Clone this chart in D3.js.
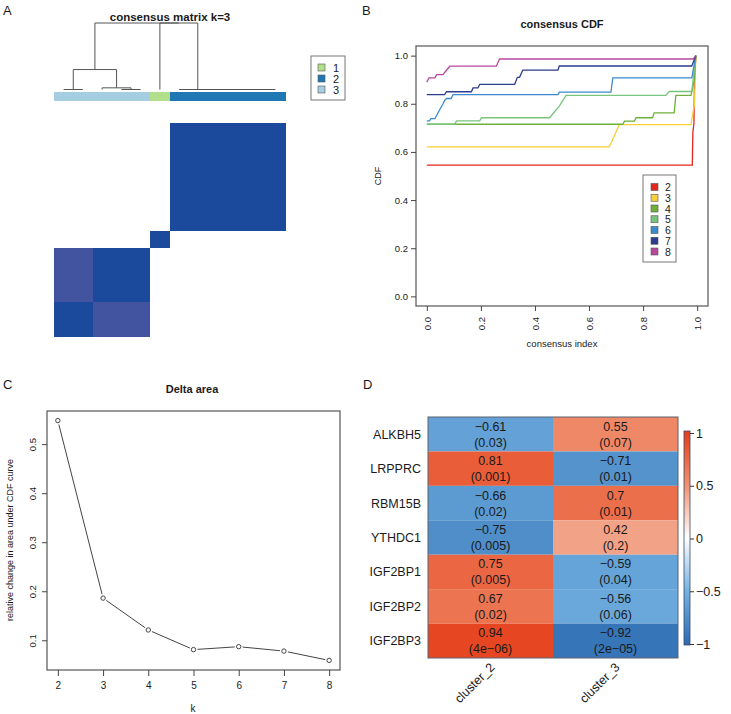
<!DOCTYPE html>
<head>
    <meta charset="UTF-8">
    <script src="https://d3js.org/d3.v7.min.js"></script>
    <style>
        body { margin: 0; background: white; }
        svg { display: block; font-family: "Liberation Sans", Arial, sans-serif; }
        text { fill: #1a1a1a; }
    </style>
</head>

<body>
    <div id="chart"></div>
    <script>
        // ---- panel A: consensus matrix (k=3), samples in plotted order ----
        const sampleCluster = [3, 3, 3, 3, 3, 1, 2, 2, 2, 2, 2, 2]
        const consensus = [
            [1, 1, .7, .7, .7, 0, 0, 0, 0, 0, 0, 0],
            [1, 1, .7, .7, .7, 0, 0, 0, 0, 0, 0, 0],
            [.7, .7, 1, 1, 1, 0, 0, 0, 0, 0, 0, 0],
            [.7, .7, 1, 1, 1, 0, 0, 0, 0, 0, 0, 0],
            [.7, .7, 1, 1, 1, 0, 0, 0, 0, 0, 0, 0],
            [0, 0, 0, 0, 0, 1, 0, 0, 0, 0, 0, 0],
            [0, 0, 0, 0, 0, 0, 1, 1, 1, 1, 1, 1],
            [0, 0, 0, 0, 0, 0, 1, 1, 1, 1, 1, 1],
            [0, 0, 0, 0, 0, 0, 1, 1, 1, 1, 1, 1],
            [0, 0, 0, 0, 0, 0, 1, 1, 1, 1, 1, 1],
            [0, 0, 0, 0, 0, 0, 1, 1, 1, 1, 1, 1],
            [0, 0, 0, 0, 0, 0, 1, 1, 1, 1, 1, 1]
        ]
        // hclust tree: h = merge height, c = children (leaf = sample index)
        const dendro = {
            h: 1, c: [
                { h: 0.3, c: [{ h: 0, c: [0, 1] }, { h: 0.025, c: [2, { h: 0, c: [3, 4] }] }] },
                { h: 1, c: [5, { h: 0, c: [6, { h: 0, c: [7, { h: 0, c: [8, { h: 0, c: [9, { h: 0, c: [10, 11] }] }] }] }] }] }
            ]
        }
        const clusterNames = ["1", "2", "3"]
        const clusterColors = ["#b2df8a", "#1f78b4", "#a6cee3"]

        // ---- panel B: consensus CDF, [consensus index, CDF] ----
        const cdfK2 = [[0, .545], [.982, .545], [.984, .68], [.988, .72], [.99, .9], [.995, 1]]
        const cdfK3 = [[0, .621], [.675, .621], [.685, .645], [.712, .713], [.977, .713], [.99, .8], [.995, 1]]
        const cdfK4 = [[0, .715], [.725, .715], [.731, .728], [.768, .728], [.774, .742], [.835, .742], [.841, .762],
            [.915, .762], [.921, .835], [.977, .835], [.99, .9], [.995, 1]]
        const cdfK5 = [[0, .715], [.103, .715], [.11, .729], [.196, .729], [.202, .742], [.454, .742], [.475, .77],
            [.49, .79], [.515, .835], [.884, .835], [.897, .851], [.98, .851], [.99, .95], [.995, 1]]
        const cdfK6 = [[0, .729], [.01, .729], [.015, .738], [.03, .738], [.045, .77], [.06, .8], [.066, .814],
            [.073, .822], [.09, .822], [.097, .838], [.485, .838], [.49, .848], [.681, .848], [.688, .908],
            [.98, .908], [.995, 1]]
        const cdfK7 = [[0, .838], [.066, .838], [.073, .85], [.165, .85], [.171, .866], [.189, .866], [.196, .881],
            [.325, .881], [.335, .91], [.343, .91], [.355, .94], [.485, .94], [.49, .957], [.98, .957], [.995, 1]]
        const cdfK8 = [[0, .89], [.008, .908], [.03, .908], [.036, .921], [.06, .921], [.066, .93], [.085, .956],
            [.257, .956], [.269, .986], [.985, .986], [.995, 1]]
        const cdfSeries = [cdfK2, cdfK3, cdfK4, cdfK5, cdfK6, cdfK7, cdfK8]
        const cdfNames = ["2", "3", "4", "5", "6", "7", "8"]
        const cdfColors = ["#e3261f", "#f5d03a", "#6fb03a", "#78c47e", "#3b89cf", "#2c3c8e", "#b8489e"]
        const unitTicks = [0, 0.2, 0.4, 0.6, 0.8, 1]

        // ---- panel C: delta area ----
        const kValues = [2, 3, 4, 5, 6, 7, 8]
        const deltaArea = [0.548, 0.186, 0.121, 0.081, 0.087, 0.078, 0.059]
        const deltaTicks = [0.1, 0.2, 0.3, 0.4, 0.5]

        // ---- panel D: correlation heatmap ----
        const genes = ["ALKBH5", "LRPPRC", "RBM15B", "YTHDC1", "IGF2BP1", "IGF2BP2", "IGF2BP3"]
        const clusters = ["cluster_2", "cluster_3"]
        const corrCluster2 = [-0.61, 0.81, -0.66, -0.75, 0.75, 0.67, 0.94]
        const corrCluster3 = [0.55, -0.71, 0.7, 0.42, -0.59, -0.56, -0.92]
        const pCluster2 = ["0.03", "0.001", "0.02", "0.005", "0.005", "0.02", "4e−06"]
        const pCluster3 = ["0.07", "0.01", "0.01", "0.2", "0.04", "0.06", "2e−05"]
        const legendTicks = [-1, -0.5, 0, 0.5, 1]

        let width = 731, height = 714
        let svg = d3.select("#chart").append("svg")
            .attr("width", width)
            .attr("height", height)

        const minus = s => String(s).replace("-", "−")
        const panelLetter = (x, y, t) => svg.append("text").attr("x", x).attr("y", y)
            .text(t).style("font-size", "13px")

        // ================= A =================
        panelLetter(3, 15, "A")
        svg.append("text").attr("x", 170).attr("y", 21).attr("text-anchor", "middle")
            .style("font-size", "11.5px").style("font-weight", "bold").text("consensus matrix k=3")

        let idx = d3.range(sampleCluster.length)
        let xA = d3.scaleBand().domain(idx).range([54, 285])
        let yA = d3.scaleBand().domain(idx).range([336, 123])
        let matColor = d3.scaleThreshold().domain([0.3, 0.9]).range(["#ffffff", "#4253a0", "#1b4a9c"])
        let clusterColor = d3.scaleOrdinal().domain([1, 2, 3]).range(clusterColors)

        let matG = svg.append("g").attr("shape-rendering", "crispEdges")
        consensus.forEach((row, i) => {
            matG.append("g").selectAll("rect").data(row).join("rect")
                .attr("x", (d, j) => xA(j))
                .attr("y", yA(i))
                .attr("width", xA.bandwidth() + 1)
                .attr("height", yA.bandwidth() + 1)
                .attr("fill", d => matColor(d))
        })

        svg.append("g").attr("shape-rendering", "crispEdges")
            .selectAll("rect").data(sampleCluster).join("rect")
            .attr("x", (d, j) => xA(j))
            .attr("y", 92)
            .attr("width", xA.bandwidth() + 1)
            .attr("height", 9)
            .attr("fill", d => clusterColor(d))

        // dendrogram
        let yH = d3.scaleLinear().domain([0, 1]).range([89.5, 23])
        let dg = svg.append("g").attr("stroke", "#555").attr("fill", "none").attr("stroke-width", 1)
        function drawNode(node) {
            if (typeof node === "number") return { x: xA(node) + xA.bandwidth() / 2, h: 0 }
            let kids = node.c.map(drawNode)
            let y0 = yH(node.h)
            dg.append("line").attr("x1", kids[0].x).attr("x2", kids[1].x).attr("y1", y0).attr("y2", y0)
            kids.forEach(k => {
                dg.append("line").attr("x1", k.x).attr("x2", k.x).attr("y1", y0).attr("y2", yH(k.h))
            })
            return { x: d3.mean(kids, k => k.x), h: node.h }
        }
        drawNode(dendro)

        // legend A
        svg.append("rect").attr("x", 311).attr("y", 56).attr("width", 34).attr("height", 44)
            .attr("fill", "none").attr("stroke", "#777")
        clusterNames.forEach((n, i) => {
            svg.append("rect").attr("x", 318).attr("y", 64 + i * 11).attr("width", 7).attr("height", 7)
                .attr("fill", clusterColors[i]).attr("stroke", "#555").attr("stroke-width", 0.6)
            svg.append("text").attr("x", 333).attr("y", 71.5 + i * 11).text(n).style("font-size", "11px")
        })

        // ================= B =================
        panelLetter(362, 15, "B")
        svg.append("text").attr("x", 562).attr("y", 28).attr("text-anchor", "middle")
            .style("font-size", "11px").style("font-weight", "bold").text("consensus CDF")

        let xB = d3.scaleLinear().domain([-0.04, 1.04]).range([416, 708])
        let yB = d3.scaleLinear().domain([-0.04, 1.04]).range([306, 46])

        let lineB = d3.line().x(d => xB(d[0])).y(d => yB(d[1]))
        svg.append("g").selectAll("path").data(cdfSeries).join("path")
            .attr("d", lineB)
            .attr("fill", "none")
            .attr("stroke", (d, i) => cdfColors[i])
            .attr("stroke-width", 1.3)

        svg.append("rect").attr("x", 416).attr("y", 46).attr("width", 292).attr("height", 260)
            .attr("fill", "none").attr("stroke", "#555").attr("stroke-width", 1.2)

        let axYB = svg.append("g").attr("transform", "translate(416,0)")
            .call(d3.axisLeft(yB).tickValues(unitTicks).tickFormat(d3.format(".1f")).tickSize(5).tickPadding(3))
        axYB.select(".domain").remove()
        axYB.selectAll("text").style("font-size", "9.5px").style("font-family", null)

        let axXB = svg.append("g").attr("transform", "translate(0,306)")
            .call(d3.axisBottom(xB).tickValues(unitTicks).tickFormat(d3.format(".1f")).tickSize(5))
        axXB.select(".domain").remove()
        axXB.selectAll("text")
            .attr("transform", "rotate(-90)")
            .attr("x", -11).attr("y", 0).attr("dy", "0.35em")
            .attr("text-anchor", "end")
            .style("font-size", "9.5px").style("font-family", null)
        svg.selectAll(".tick line").attr("stroke", "#444")

        svg.append("text").attr("x", 562).attr("y", 347).attr("text-anchor", "middle")
            .style("font-size", "9.5px").text("consensus index")
        svg.append("text").attr("transform", "translate(381,176) rotate(-90)").attr("text-anchor", "middle")
            .style("font-size", "9px").text("CDF")

        // legend B
        svg.append("rect").attr("x", 643).attr("y", 175).attr("width", 33).attr("height", 87)
            .attr("fill", "white").attr("stroke", "#777")
        cdfNames.forEach((n, i) => {
            let cy = 187 + i * 10.75
            svg.append("rect").attr("x", 651).attr("y", cy - 3.5).attr("width", 7).attr("height", 7)
                .attr("fill", cdfColors[i]).attr("stroke", "#555").attr("stroke-width", 0.6)
            svg.append("text").attr("x", 665).attr("y", cy + 4).text(n).style("font-size", "10.5px")
        })

        // ================= C =================
        panelLetter(3, 389, "C")
        svg.append("text").attr("x", 192).attr("y", 393).attr("text-anchor", "middle")
            .style("font-size", "11px").style("font-weight", "bold").text("Delta area")

        let [dMin, dMax] = d3.extent(deltaArea)
        let pad = (dMax - dMin) * 0.04
        let xC = d3.scaleLinear().domain([2 - 0.24, 8 + 0.24]).range([47, 340])
        let yC = d3.scaleLinear().domain([dMin - pad, dMax + pad]).range([670, 411])

        let pts = kValues.map((k, i) => [xC(k), yC(deltaArea[i])])
        let gap = 4
        let segs = d3.pairs(pts).map(([a, b]) => {
            let dx = b[0] - a[0], dy = b[1] - a[1], len = Math.hypot(dx, dy)
            return [a[0] + dx / len * gap, a[1] + dy / len * gap, b[0] - dx / len * gap, b[1] - dy / len * gap]
        })
        svg.append("g").selectAll("line").data(segs).join("line")
            .attr("x1", d => d[0]).attr("y1", d => d[1]).attr("x2", d => d[2]).attr("y2", d => d[3])
            .attr("stroke", "#444").attr("stroke-width", 1)
        svg.append("g").selectAll("circle").data(pts).join("circle")
            .attr("cx", d => d[0]).attr("cy", d => d[1]).attr("r", 2.2)
            .attr("fill", "none").attr("stroke", "#444").attr("stroke-width", 1)

        svg.append("rect").attr("x", 47).attr("y", 411).attr("width", 293).attr("height", 259)
            .attr("fill", "none").attr("stroke", "#555").attr("stroke-width", 1.2)

        let axXC = svg.append("g").attr("transform", "translate(0,670)")
            .call(d3.axisBottom(xC).tickValues(kValues).tickFormat(d3.format("d")).tickSize(6).tickPadding(6))
        axXC.select(".domain").remove()
        axXC.selectAll("text").style("font-size", "10px").style("font-family", null)

        let axYC = svg.append("g").attr("transform", "translate(47,0)")
            .call(d3.axisLeft(yC).tickValues(deltaTicks).tickFormat(d3.format(".1f")).tickSize(5))
        axYC.select(".domain").remove()
        axYC.selectAll("text")
            .attr("transform", "rotate(-90)")
            .attr("x", 0).attr("y", -11).attr("dy", 0)
            .attr("text-anchor", "middle")
            .style("font-size", "9.5px").style("font-family", null)
        svg.selectAll(".tick line").attr("stroke", "#444")

        svg.append("text").attr("x", 193).attr("y", 712).attr("text-anchor", "middle")
            .style("font-size", "10px").text("k")
        svg.append("text").attr("transform", "translate(13,540) rotate(-90)").attr("text-anchor", "middle")
            .style("font-size", "9px").text("relative change in area under CDF curve")

        // ================= D =================
        panelLetter(363, 389, "D")
        let xD = d3.scaleBand().domain(clusters).range([428, 678])
        let yD = d3.scaleBand().domain(genes).range([417, 658])
        let corrColor = d3.scaleLinear().domain([-1, -0.5, 0, 0.5, 1])
            .range(["#2c6ab1", "#72b1e1", "#ffffff", "#f0906f", "#e53d17"])

        let cells = []
        genes.forEach((g, i) => {
            cells.push({ gene: g, cl: clusters[0], r: corrCluster2[i], p: pCluster2[i] })
            cells.push({ gene: g, cl: clusters[1], r: corrCluster3[i], p: pCluster3[i] })
        })
        let cellG = svg.append("g").selectAll("g").data(cells).join("g")
            .attr("transform", d => `translate(${xD(d.cl)},${yD(d.gene)})`)
        cellG.append("rect")
            .attr("width", xD.bandwidth()).attr("height", yD.bandwidth())
            .attr("fill", d => corrColor(d.r))
        cellG.append("text")
            .attr("x", xD.bandwidth() / 2).attr("y", yD.bandwidth() / 2 - 3.5)
            .attr("text-anchor", "middle").style("font-size", "12.5px")
            .text(d => minus(d.r))
        cellG.append("text")
            .attr("x", xD.bandwidth() / 2).attr("y", yD.bandwidth() / 2 + 12.5)
            .attr("text-anchor", "middle").style("font-size", "12.5px")
            .text(d => "(" + d.p + ")")

        svg.append("rect").attr("x", 428).attr("y", 417).attr("width", 250).attr("height", 241)
            .attr("fill", "none").attr("stroke", "#5a6470").attr("stroke-width", 1)

        svg.append("g").selectAll("text").data(genes).join("text")
            .attr("x", 421).attr("y", d => yD(d) + yD.bandwidth() / 2 + 4.5)
            .attr("text-anchor", "end").style("font-size", "12.5px")
            .text(d => d)

        svg.append("g").selectAll("text").data(clusters).join("text")
            .attr("transform", d => `translate(${xD(d) + xD.bandwidth() / 2 + 5},${668}) rotate(-45)`)
            .attr("text-anchor", "end").style("font-size", "12.5px")
            .text(d => d)

        // colour key
        let yCb = d3.scaleLinear().domain([-1, 1]).range([644, 433])
        let grad = svg.append("defs").append("linearGradient").attr("id", "cbar")
            .attr("x1", 0).attr("x2", 0).attr("y1", 1).attr("y2", 0)
        grad.selectAll("stop").data(legendTicks).join("stop")
            .attr("offset", d => (d + 1) / 2)
            .attr("stop-color", d => corrColor(d))
        svg.append("rect").attr("x", 684).attr("y", 431).attr("width", 6).attr("height", 214)
            .attr("fill", "url(#cbar)").attr("stroke", "#3d4a66").attr("stroke-width", 0.8)
        let axCb = svg.append("g").attr("transform", "translate(690,0)")
            .call(d3.axisRight(yCb).tickValues(legendTicks).tickFormat(minus).tickSize(4).tickPadding(2))
        axCb.select(".domain").remove()
        axCb.selectAll("line").attr("stroke", "#333")
        axCb.selectAll("text").style("font-size", "12.5px").style("font-family", null)
    </script>
</body>
</html>
